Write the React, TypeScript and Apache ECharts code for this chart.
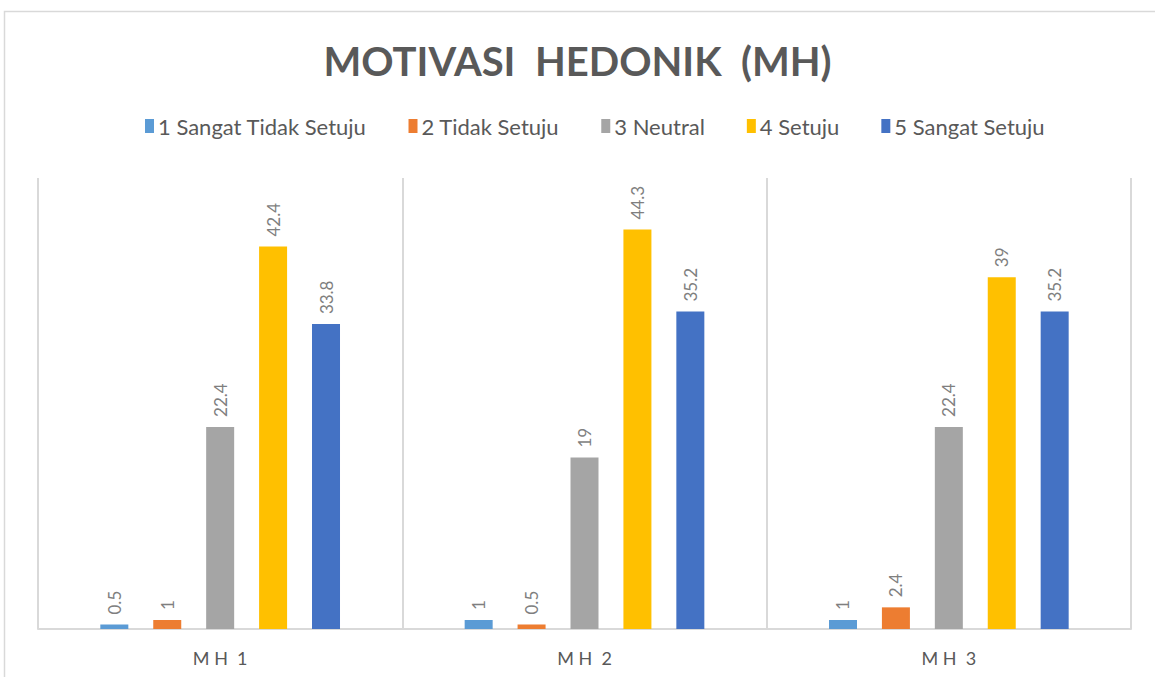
import React, { useEffect, useRef } from "react";
import * as echarts from "echarts";

const categories = ["M H  1", "M H  2", "M H  3"];
const seriesNames = [
  "1 Sangat Tidak Setuju",
  "2 Tidak Setuju",
  "3 Neutral",
  "4 Setuju",
  "5 Sangat Setuju",
];
const s1 = [0.5, 1, 1];
const s2 = [1, 0.5, 2.4];
const s3 = [22.4, 19, 22.4];
const s4 = [42.4, 44.3, 39];
const s5 = [33.8, 35.2, 35.2];
const seriesData = [s1, s2, s3, s4, s5];
const colors = ["#5B9BD5", "#ED7D31", "#A5A5A5", "#FFC000", "#4472C4"];

const FONT = "Lato";

export default function App() {
  const ref = useRef<HTMLDivElement>(null);
  useEffect(() => {
    if (!ref.current) return;
    const chart = echarts.init(ref.current, null, { renderer: "svg" });
    chart.setOption({
      animation: false,
      backgroundColor: "#ffffff",
      title: {
        text: "MOTIVASI  HEDONIK  (MH)",
        left: "center",
        top: 36,
        textStyle: {
          fontFamily: FONT,
          fontSize: 40,
          fontWeight: "bold",
          color: "#595959",
        },
      },
      graphic: [
        {
          type: "rect",
          shape: { x: 4.5, y: 11.5, width: 1170, height: 700 },
          style: { fill: "none", stroke: "#d9d9d9", lineWidth: 1.5 },
          silent: true,
        },
      ],
      legend: {
        top: 110,
        left: 140,
        itemWidth: 9,
        itemHeight: 14,
        itemGap: 42,
        icon: "rect",
        textStyle: { fontFamily: FONT, fontSize: 22, color: "#595959", padding: [0, 0, 0, -1] },
        data: seriesNames,
      },
      grid: { left: 38, right: 24, top: 178, bottom: 48 },
      xAxis: {
        type: "category",
        data: categories,
        axisLine: { lineStyle: { color: "#d9d9d9", width: 2 } },
        axisTick: { show: false },
        splitLine: { show: true, lineStyle: { color: "#d9d9d9", width: 2 } },
        axisLabel: {
          fontFamily: FONT,
          fontSize: 18,
          color: "#595959",
          margin: 20,
        },
      },
      yAxis: {
        type: "value",
        min: 0,
        max: 50,
        show: false,
        splitLine: { show: false },
      },
      series: seriesNames.map((name, i) => ({
        name,
        type: "bar",
        data: seriesData[i],
        barWidth: 28,
        barGap: "89%",
        itemStyle: { color: colors[i] },
        label: {
          show: true,
          position: "top",
          rotate: 90,
          align: "left",
          verticalAlign: "middle",
          distance: 10,
          fontFamily: FONT,
          fontSize: 17,
          color: "#7f7f7f",
        },
      })),
    });
    return () => chart.dispose();
  }, []);
  return (
    <div
      ref={ref}
      style={{ position: "absolute", left: 0, top: 0, width: 1155, height: 677 }}
    />
  );
}
